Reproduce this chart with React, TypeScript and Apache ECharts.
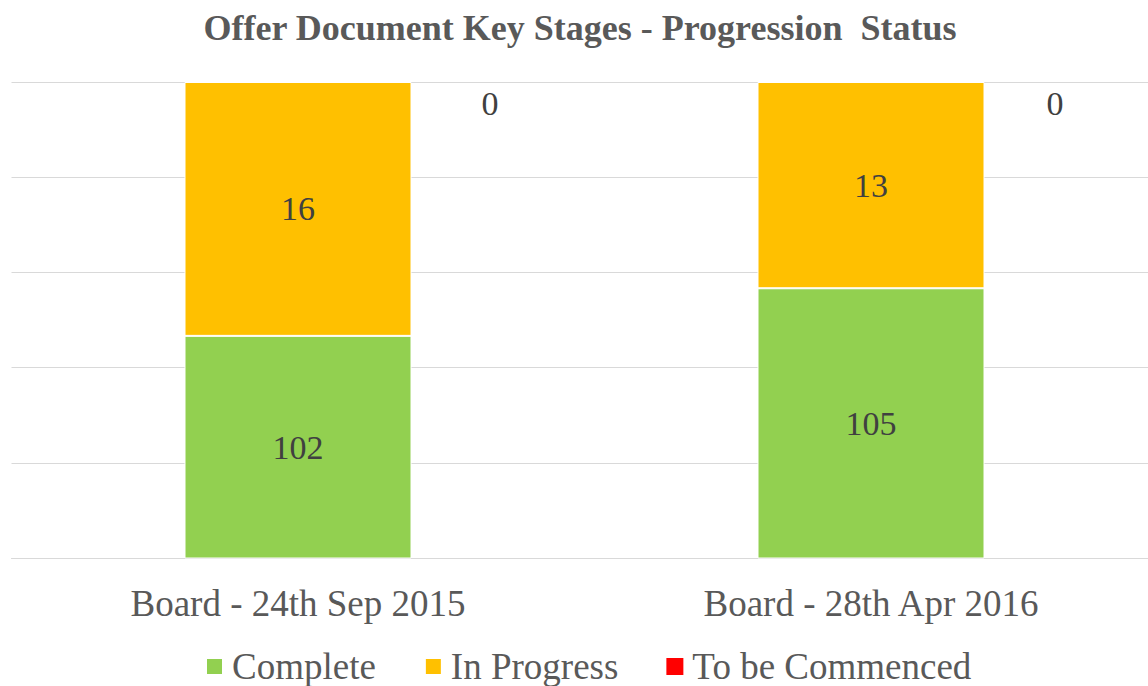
import React, { useEffect, useRef } from "react";
import * as echarts from "echarts";

const categories = ["Board - 24th Sep 2015", "Board - 28th Apr 2016"];
const complete = [102, 105];
const inProgress = [16, 13];
const toBeCommenced = [0, 0];
const zeroLabelOffsetsX = [192, 184];

const FONT = '"Liberation Serif", "Times New Roman", serif';

export default function App() {
  const ref = useRef<HTMLDivElement>(null);
  useEffect(() => {
    if (!ref.current) return;
    const chart = echarts.init(ref.current, null, { renderer: "svg" });
    const inside = {
      show: true,
      position: "inside",
      color: "#404040",
      fontFamily: FONT,
      fontSize: 34,
    };
    chart.setOption({
      animation: false,
      backgroundColor: "#ffffff",
      title: {
        text: "Offer Document Key Stages - Progression  Status",
        left: "center",
        top: 10,
        padding: 0,
        textStyle: {
          fontFamily: FONT,
          fontWeight: "bold",
          fontSize: 36,
          color: "#595959",
        },
      },
      legend: {
        top: 648,
        left: 205,
        icon: "rect",
        itemWidth: 17,
        itemHeight: 17,
        itemGap: 48,
        padding: 0,
        textStyle: {
          fontFamily: FONT,
          fontSize: 37,
          color: "#595959",
          padding: [0, 0, 0, 4],
        },
        data: ["Complete", "In Progress", "To be Commenced"],
      },
      grid: {
        left: 11.5,
        top: 82,
        width: 1146,
        height: 476,
        containLabel: false,
      },
      xAxis: {
        type: "category",
        data: categories,
        axisLine: { show: true, lineStyle: { color: "#D9D9D9", width: 1 } },
        axisTick: { show: false },
        axisLabel: {
          fontFamily: FONT,
          fontSize: 37,
          color: "#595959",
          margin: 27,
        },
      },
      yAxis: {
        type: "value",
        min: 88,
        max: 118,
        interval: 6,
        axisLabel: { show: false },
        axisLine: { show: false },
        axisTick: { show: false },
        splitLine: { show: true, lineStyle: { color: "#D9D9D9", width: 1 } },
      },
      series: [
        {
          name: "Complete",
          type: "bar",
          stack: "total",
          barWidth: 227,
          data: complete,
          itemStyle: { color: "#92D050", borderColor: "#ffffff", borderWidth: 1 },
          label: inside,
        },
        {
          name: "In Progress",
          type: "bar",
          stack: "total",
          barWidth: 227,
          data: inProgress,
          itemStyle: { color: "#FFC000", borderColor: "#ffffff", borderWidth: 1 },
          label: inside,
        },
        {
          name: "To be Commenced",
          type: "bar",
          stack: "total",
          barWidth: 227,
          itemStyle: { color: "#FF0000" },
          data: toBeCommenced.map((v, i) => ({
            value: v,
            label: {
              show: true,
              position: "inside",
              offset: [zeroLabelOffsetsX[i], 21],
              color: "#404040",
              fontFamily: FONT,
              fontSize: 34,
            },
          })),
        },
      ],
    });
    return () => chart.dispose();
  }, []);
  return (
    <div
      ref={ref}
      style={{ position: "fixed", left: 0, top: 0, width: 1160, height: 686 }}
    />
  );
}
